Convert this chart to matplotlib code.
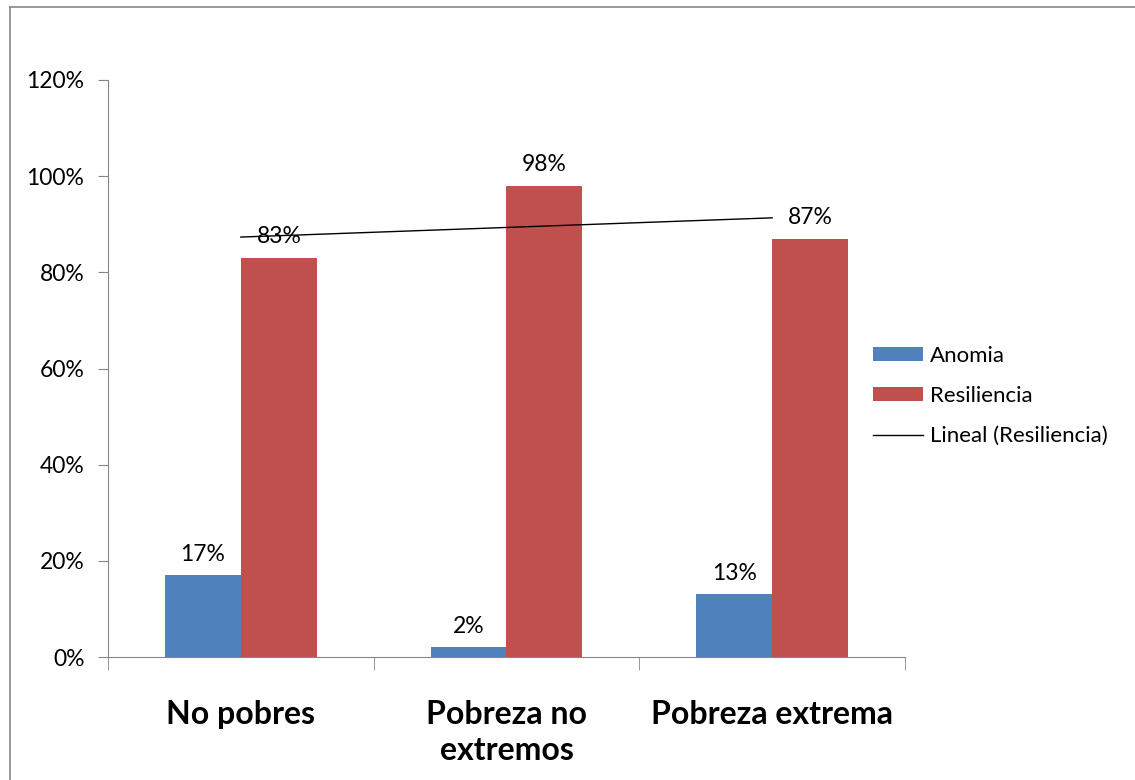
import numpy as np
import matplotlib
matplotlib.use('Agg')
import matplotlib.pyplot as plt
from matplotlib.lines import Line2D

categories = ['No pobres', 'Pobreza no\nextremos', 'Pobreza extrema']
anomia = [0.17, 0.02, 0.13]
resiliencia = [0.83, 0.98, 0.87]
yticks = [0, 0.2, 0.4, 0.6, 0.8, 1.0, 1.2]

plt.rcParams['font.family'] = ['Lato', 'DejaVu Sans']

fig = plt.figure(figsize=(11.35, 7.8), dpi=100)
ax = fig.add_axes([108 / 1135, 1 - 657 / 780, (905 - 108) / 1135, (657 - 80) / 780])

x = np.arange(len(categories))
w = 0.286
blue = '#4F81BD'
red = '#C0504D'
b1 = ax.bar(x - w / 2, anomia, w, color=blue, label='Anomia')
b2 = ax.bar(x + w / 2, resiliencia, w, color=red, label='Resiliencia')

# linear trend of Resiliencia
coef = np.polyfit(x, resiliencia, 1)
tl, = ax.plot(x, np.polyval(coef, x), color='black', lw=1, label='Lineal (Resiliencia)')

for xi, v in zip(x, anomia):
    ax.text(xi - w / 2, v + 0.022, f'{round(v * 100)}%', ha='center', va='bottom', fontsize=16.5)
for xi, v in zip(x, resiliencia):
    ax.text(xi + w / 2, v + 0.022, f'{round(v * 100)}%', ha='center', va='bottom', fontsize=16.5)

ax.set_xlim(-0.5, 2.5)
ax.set_ylim(0, 1.2)
ax.set_yticks(yticks)
ax.set_yticklabels([f'{int(round(t * 100))}%' for t in yticks], fontsize=16.5)
ax.set_xticks(x)
ax.set_xticklabels(categories, fontsize=23, fontweight='bold', linespacing=1.3)
ax.set_xticks([-0.5, 0.5, 1.5, 2.5], minor=True)
ax.tick_params(axis='x', which='major', length=0, pad=31)
ax.tick_params(axis='x', which='minor', length=9, color='#868686')
ax.tick_params(axis='y', length=7, color='#868686', pad=10)

for s in ['top', 'right']:
    ax.spines[s].set_visible(False)
for s in ['left', 'bottom']:
    ax.spines[s].set_color('#868686')

fig.legend([b1, b2, tl], ['Anomia', 'Resiliencia', 'Lineal (Resiliencia)'],
           loc='center left', bbox_to_anchor=(873 / 1135, 1 - 396 / 780), frameon=False,
           fontsize=16, handlelength=2.25, handleheight=0.55, labelspacing=0.9,
           handletextpad=0.33, borderpad=0, borderaxespad=0)

# outer chart frame
fig.add_artist(Line2D([10 / 1135, 10 / 1135], [0, 1 - 7 / 780], color='#888888', lw=1.2,
                      transform=fig.transFigure))
fig.add_artist(Line2D([10 / 1135, 1], [1 - 7 / 780, 1 - 7 / 780], color='#888888', lw=1.2,
                      transform=fig.transFigure))

fig.savefig('out.png', dpi=100)
